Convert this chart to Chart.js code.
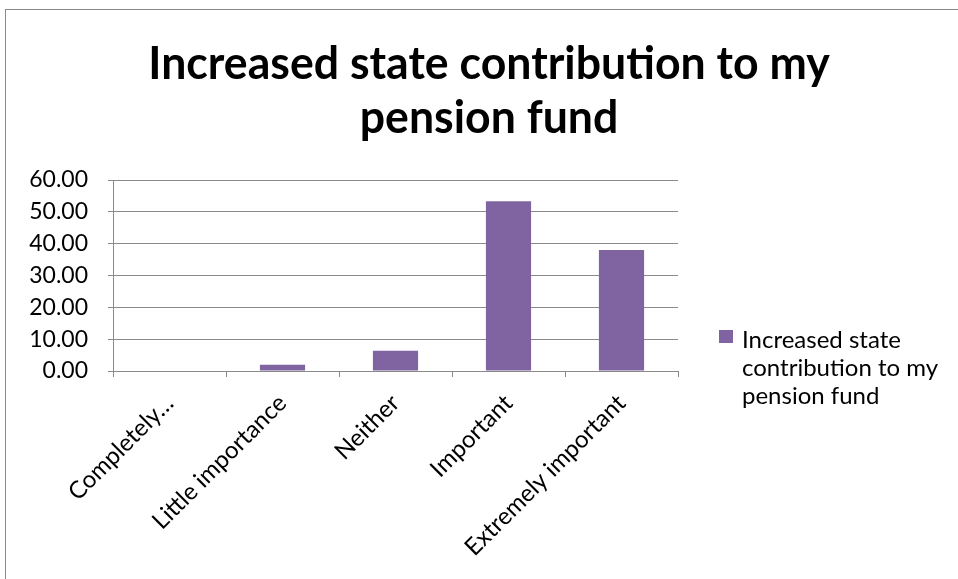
<!DOCTYPE html>
<html>
<head>
<meta charset="utf-8">
<script src="https://cdn.jsdelivr.net/npm/chart.js@4/dist/chart.umd.min.js"></script>
<style>
  body { margin: 0; background: #fff; }
  #wrap { position: relative; width: 958px; height: 579px; overflow: hidden; }
  #frame { position: absolute; left: 5px; top: 9px; width: 960px; height: 580px; border: 1px solid #8a8a8a; }
  canvas { position: absolute; left: 0; top: 0; }
</style>
</head>
<body>
<div id="wrap">
  <div id="frame"></div>
  <canvas id="chart" width="958" height="579"></canvas>
</div>
<script>
const title_lines = ['Increased state contribution to my', 'pension fund']
const series_name = 'Increased state contribution to my pension fund'
const categories = ['Completely…', 'Little importance', 'Neither', 'Important', 'Extremely important']
const values = [0, 2.0, 6.4, 53.3, 38.0]
const y_ticks = [0, 10, 20, 30, 40, 50, 60]

const purple = '#8064A2'
const grid_color = '#8a8a8a'
const font_name = 'Lato'

// title is centred on the whole canvas, not just the plot
const page_title = {
    id: 'page_title',
    afterDraw(chart) {
        const ctx = chart.ctx
        ctx.save()
        ctx.translate(489, 0)
        ctx.scale(0.97, 1)  // squeeze a little, the original face is narrower
        ctx.fillStyle = '#000'
        ctx.font = 'bold 46px ' + font_name
        ctx.textAlign = 'center'
        ctx.textBaseline = 'alphabetic'
        title_lines.forEach((line, i) => {
            ctx.fillText(line, 0, 79 + i * 54)
        })
        ctx.restore()
    }
}

// legend on the right, wrapped over three lines like the office chart
const side_legend = {
    id: 'side_legend',
    afterDraw(chart) {
        const ctx = chart.ctx
        const words = chart.data.datasets[0].label.split(' ')
        const lines = [words.slice(0, 2).join(' '), words.slice(2, 5).join(' '), words.slice(5).join(' ')]
        const x = chart.chartArea.right + 41
        const y = 340
        ctx.save()
        ctx.fillStyle = chart.data.datasets[0].backgroundColor
        ctx.fillRect(x, y - 10, 14, 13)
        ctx.fillStyle = '#000'
        ctx.font = '24px ' + font_name
        ctx.textBaseline = 'middle'
        lines.forEach((line, i) => {
            ctx.fillText(line, x + 23, y + i * 28)
        })
        ctx.restore()
    }
}

new Chart(document.getElementById('chart'), {
    type: 'bar',
    data: {
        labels: categories,
        datasets: [{
            label: series_name,
            data: values,
            backgroundColor: purple,
            categoryPercentage: 1,
            barPercentage: 0.4
        }]
    },
    options: {
        responsive: false,
        animation: false,
        layout: { padding: { left: 8, right: 280, top: 180, bottom: 0 } },
        plugins: {
            legend: { display: false },
            tooltip: { enabled: false },
            title: { display: false }
        },
        scales: {
            x: {
                grid: { drawOnChartArea: false, color: grid_color, tickLength: 6, offset: true },
                border: { color: grid_color, width: 1 },
                ticks: {
                    color: '#000',
                    font: { family: font_name, size: 24 },
                    minRotation: 45,
                    maxRotation: 45,
                    autoSkip: false,
                    padding: 12
                },
                afterFit(scale) { scale.height = 579 - 371 }
            },
            y: {
                min: 0,
                max: 60,
                afterBuildTicks(scale) { scale.ticks = y_ticks.map(v => ({ value: v })) },
                grid: { color: grid_color, tickLength: 5 },
                border: { color: grid_color, width: 1 },
                ticks: {
                    color: '#000',
                    font: { family: font_name, size: 23 },
                    padding: 20,
                    callback: v => v.toFixed(2)
                },
                afterFit(scale) { scale.width = 113 - 8 }
            }
        }
    },
    plugins: [page_title, side_legend]
})
</script>
</body>
</html>
